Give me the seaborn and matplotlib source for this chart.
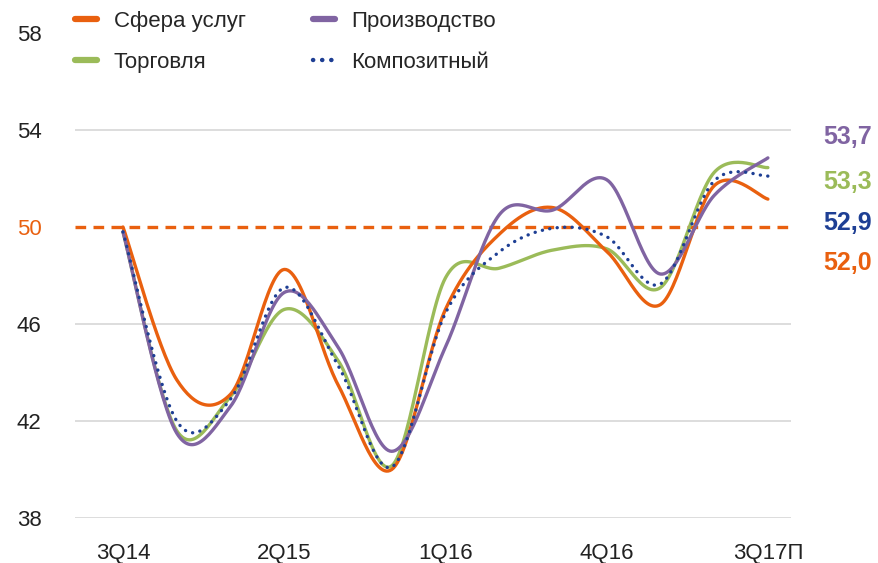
import numpy as np
import pandas as pd
import seaborn as sns
import matplotlib.pyplot as plt
from matplotlib.lines import Line2D

# ---------------- data ----------------
quarters = ['3Q14', '4Q14', '1Q15', '2Q15', '3Q15', '4Q15', '1Q16',
            '2Q16', '3Q16', '4Q16', '1Q17', '2Q17', '3Q17П']
tick_labels = ['3Q14', '2Q15', '1Q16', '4Q16', '3Q17П']
tick_quarters = ['3Q14', '2Q15', '1Q16', '4Q16', '3Q17П']
services = [50.0, 43.7, 43.1, 48.25, 43.5, 40.0, 46.6, 49.7, 50.8, 49.0, 46.8, 51.7, 51.15]
trade = [49.8, 41.6, 43.0, 46.6, 44.5, 40.15, 47.9, 48.3, 49.05, 49.1, 47.5, 52.25, 52.45]
manufacturing = [49.8, 41.5, 42.6, 47.3, 45.05, 40.75, 45.05, 50.5, 50.7, 51.95, 48.06, 51.3, 52.85]
composite = [49.8, 42.0, 42.9, 47.5, 44.3, 40.1, 46.45, 48.97, 49.95, 49.6, 47.65, 51.9, 52.1]
threshold = 50
y_ticks = [38, 42, 46, 50, 54, 58]
series_names = ['Сфера услуг', 'Торговля', 'Производство', 'Композитный']
forecast_labels = ['53,7', '53,3', '52,9', '52,0']
forecast_series = ['Производство', 'Торговля', 'Композитный', 'Сфера услуг']

colors = {'Сфера услуг': '#E9600F', 'Торговля': '#9BBB59',
          'Производство': '#8064A2', 'Композитный': '#1E3F94'}


def smooth(vals, n=30):
    """Excel-style smoothed line (Catmull-Rom through the data points)."""
    y = np.asarray(vals, float)
    x = np.arange(len(y), dtype=float)
    P = np.column_stack([x, y])
    P = np.vstack([P[0], P, P[-1]])
    t = np.linspace(0, 1, n, endpoint=False)[:, None]
    out = []
    for i in range(1, len(P) - 2):
        p0, p1, p2, p3 = P[i - 1], P[i], P[i + 1], P[i + 2]
        c = 0.5 * (2 * p1 + (-p0 + p2) * t + (2 * p0 - 5 * p1 + 4 * p2 - p3) * t ** 2
                   + (-p0 + 3 * p1 - 3 * p2 + p3) * t ** 3)
        out.append(c)
    out.append(P[-2][None, :])
    return np.vstack(out)


data = {'Сфера услуг': services, 'Торговля': trade,
        'Производство': manufacturing, 'Композитный': composite}

frames = []
for name, vals in data.items():
    c = smooth(vals)
    frames.append(pd.DataFrame({'x': c[:, 0], 'y': c[:, 1], 'series': name,
                                'order': np.arange(len(c))}))
df = pd.concat(frames, ignore_index=True)

# ---------------- figure ----------------
sns.set_style('white')
plt.rcParams['font.family'] = ['Liberation Sans', 'DejaVu Sans']

fig = plt.figure(figsize=(8.79, 5.63), dpi=100)
W, H = 879, 563
ax = fig.add_axes([75 / W, 1 - 518 / H, (791 - 75) / W, (518 - 33) / H])

# grid lines
for v in y_ticks:
    if v in (threshold, 58):
        continue
    ax.axhline(v, color='#D3D3D3', lw=1.1, zorder=0)
ax.axhline(threshold, color=colors['Сфера услуг'], lw=2.4,
           linestyle=(0, (3.2, 2.2)), zorder=1)

draw_order = ['Торговля', 'Сфера услуг', 'Производство']
for name in draw_order:
    sub = df[df.series == name]
    sns.lineplot(data=sub, x='x', y='y', sort=False, estimator=None, ax=ax,
                 color=colors[name], lw=2.4, legend=False, zorder=3)
sub = df[df.series == 'Композитный']
sns.lineplot(data=sub, x='x', y='y', sort=False, estimator=None, ax=ax,
             color=colors['Композитный'], lw=2.4, legend=False, zorder=4,
             linestyle=(0, (0.05, 2.2)), dash_capstyle='round')

ax.set_xlim(-0.893, 12.43)
ax.set_ylim(38, 58)
ax.set_xlabel('')
ax.set_ylabel('')
ax.set_xticks([quarters.index(q) for q in tick_quarters])
ax.set_xticklabels(tick_labels)
ax.set_yticks(y_ticks)
ax.set_yticklabels([str(v) for v in y_ticks])
ax.tick_params(axis='y', length=0, pad=24, labelsize=16, labelcolor='#222222')
ax.tick_params(axis='x', length=0, pad=18, labelsize=16, labelcolor='#222222')
for lab in ax.get_yticklabels():
    if lab.get_text() == str(threshold):
        lab.set_color(colors['Сфера услуг'])
sns.despine(ax=ax, left=True, bottom=True, top=True, right=True)

# legend
handles = []
for name in series_names:
    if name == 'Композитный':
        handles.append(Line2D([], [], color=colors[name], lw=3.2,
                              linestyle=(0, (0.05, 2.0)), dash_capstyle='round'))
    else:
        handles.append(Line2D([], [], color=colors[name], lw=4.5,
                              solid_capstyle='round'))
fig.legend(handles, series_names, ncol=2, loc='upper left',
           bbox_to_anchor=(75 / W, 1 - 11 / H), bbox_transform=fig.transFigure,
           frameon=False, fontsize=16, handlelength=1.0, handletextpad=0.75,
           columnspacing=3.0, labelspacing=0.88, borderpad=0, borderaxespad=0)

# forecast labels on the right
ypos = [137, 182, 223, 263]
for lab, s, yp in zip(forecast_labels, forecast_series, ypos):
    fig.text(823 / W, 1 - yp / H, lab, color=colors[s], fontsize=18,
             fontweight='bold', va='center', ha='left')

fig.savefig('out.png', dpi=100)
